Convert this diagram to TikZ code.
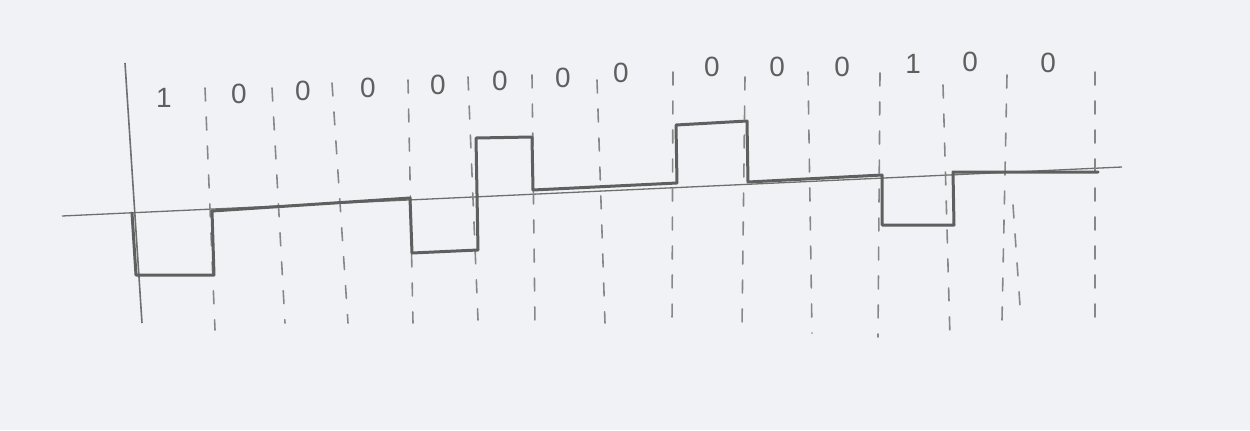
\documentclass[tikz,border=0pt]{standalone}
\usepackage{fontspec}
\setmainfont{Liberation Sans}
\definecolor{paper}{RGB}{241,242,245}
\definecolor{pencil}{RGB}{95,95,95}
\definecolor{lightpencil}{RGB}{135,135,135}
\begin{document}
\begin{tikzpicture}[x=1bp,y=-1bp,
  axisline/.style={draw=pencil!90, line width=1.3bp},
  wave/.style={draw=pencil, line width=3bp, line join=round, line cap=round},
  tickline/.style={draw=lightpencil, line width=1.6bp, dash pattern=on 13bp off 16bp, line cap=round},
  bit/.style={text=pencil, font=\fontsize{28}{28}\selectfont, inner sep=0pt}]
\fill[paper] (0,0) rectangle (1250,430);
\useasboundingbox (0,0) rectangle (1250,430);
% axes
\coordinate (hl) at (62,216);
\coordinate (hr) at (1122,167);
\coordinate (vt) at (125,63);
\coordinate (vb) at (142,323);
\draw[axisline] (hl) -- (hr);
\draw[axisline, line width=1.6bp] (vt) -- (vb);
% bit boundaries
\foreach \i/\xt/\yt/\xb/\yb in {1/205/88/215/330, 2/272/88/285/323, 3/332/83/348/323,
  4/408/80/413/323, 5/468/77/478/320, 6/532/75/535/325, 7/597/80/605/323,
  8/673/72/672/327, 9/745/77/742/327, 10/808/72/812/333, 11/880/73/878/337,
  12/943/85/950/337, 13/1007/75/1002/320, 14/1095/72/1095/327} {
  \coordinate (t\i) at (\xt,\yt);
  \coordinate (b\i) at (\xb,\yb);
  \draw[tickline] (t\i) -- (b\i);
}
\coordinate (t13b) at (1013,205);
\coordinate (b13b) at (1021,320);
\draw[tickline] (t13b) -- (b13b);
% bits
\foreach \n/\x/\y/\b in {1/164/98/1, 2/239/94/0, 3/303/91/0, 4/368/88/0, 5/438/85/0,
  6/500/81/0, 7/563/78/0, 8/621/73/0, 9/712/67/0, 10/777/67/0, 11/842/67/0,
  12/913/64/1, 13/970/62/0, 14/1048/63/0} {
  \node[bit] (bit\n) at (\x,\y) {\b};
}
% waveform
\coordinate (w0) at (132,213);
\coordinate (w1) at (136,275);
\coordinate (w2) at (214,275);
\coordinate (w3) at (212,211);
\coordinate (w4) at (410,198);
\coordinate (w5) at (412,253);
\coordinate (w6) at (478,250);
\coordinate (w7) at (476,138);
\coordinate (w8) at (532,137);
\coordinate (w9) at (533,190);
\coordinate (w10) at (677,183);
\coordinate (w11) at (676,125);
\coordinate (w12) at (747,121);
\coordinate (w13) at (748,182);
\coordinate (w14) at (882,175);
\coordinate (w15) at (882,225);
\coordinate (w16) at (954,225);
\coordinate (w17) at (953,172);
\coordinate (w18) at (1098,172);
\draw[wave] (w0) -- (w1) -- (w2) -- (w3) -- (w4) -- (w5) -- (w6) -- (w7) -- (w8)
  -- (w9) -- (w10) -- (w11) -- (w12) -- (w13) -- (w14) -- (w15) -- (w16) -- (w17) -- (w18);
\end{tikzpicture}
\end{document}
